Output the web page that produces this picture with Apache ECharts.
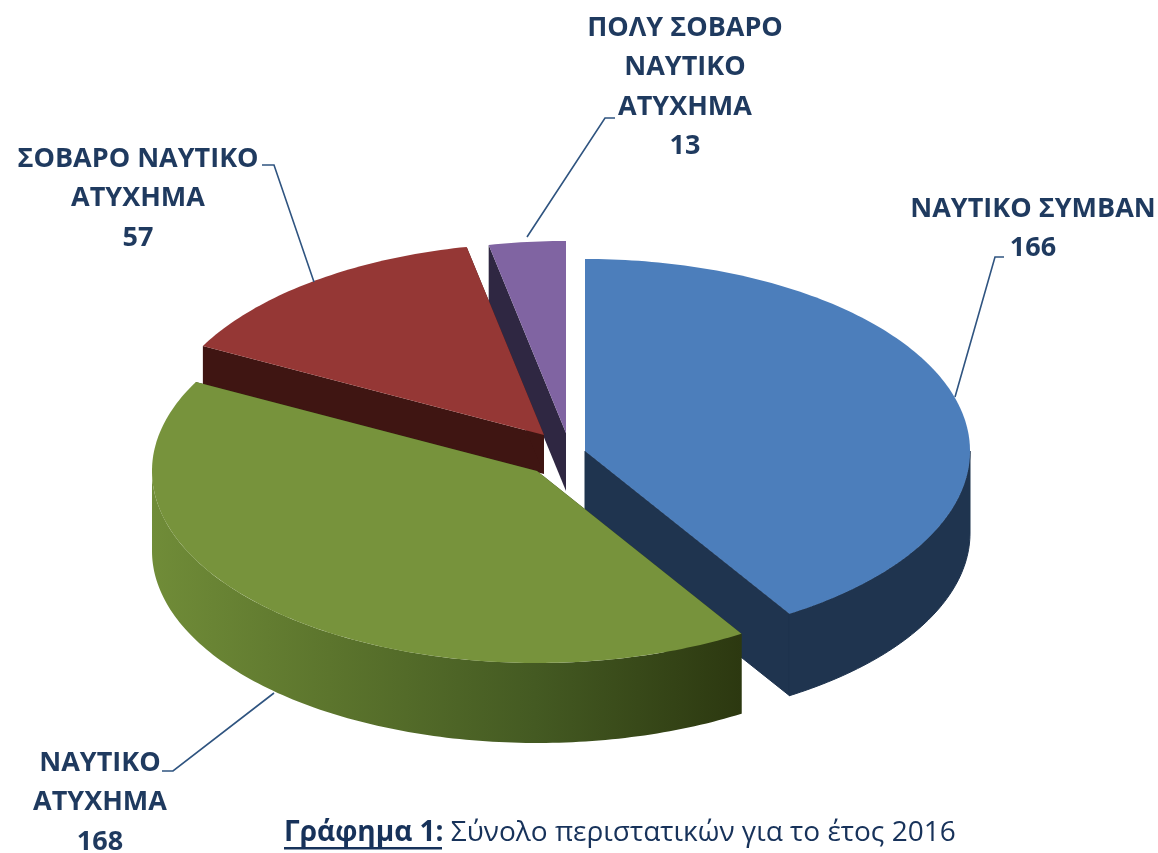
<!DOCTYPE html>
<html><head><meta charset="utf-8">
<style>html,body{margin:0;padding:0;background:#fff}#c{width:1158px;height:853px}</style>
<script src="https://cdn.jsdelivr.net/npm/echarts@6/dist/echarts.min.js"></script></head>
<body><div id="c"></div>
<script>
const categories = ['ΝΑΥΤΙΚΟ ΣΥΜΒΑΝ', 'ΝΑΥΤΙΚΟ\nΑΤΥΧΗΜΑ', 'ΣΟΒΑΡΟ ΝΑΥΤΙΚΟ\nΑΤΥΧΗΜΑ', 'ΠΟΛΥ ΣΟΒΑΡΟ\nΝΑΥΤΙΚΟ\nΑΤΥΧΗΜΑ'];
const sliceValues = [166, 168, 57, 13];
const titleBold = 'Γράφημα 1:';
const titleRest = 'Σύνολο περιστατικών για το έτος 2016';

const topColors = ['#4C7EBB', '#77933C', '#953735', '#8064A2'];
const wallColors = ['#1F344F',
  {type:'linear',x:0,y:0,x2:1,y2:0,colorStops:[{offset:0,color:'#708C38'},{offset:0.3,color:'#5C752D'},{offset:0.65,color:'#445A22'},{offset:1,color:'#2C3810'}]},
  '#3F1512', '#2F2742'];
const centers = [[585,451],[537,471],[544,435],[566,433]];
const depths = [82,80,39,58];
const paintRank = [2,3,1,0];
const RX = 385, RY = 192;
const labelFont = '"Open Sans","Noto Sans",sans-serif';
const labelColor = '#1F3A5F';
const labelAnchors = [[1033,209],[100,763],[138,159],[685,28]];
const leaders = [
  [[955,397],[995,257],[1004,257]],
  [[274,693],[173,771],[162,771]],
  [[314,282],[274,165],[262,165]],
  [[527,237],[605,118],[615,118]]
];
const total = sliceValues.reduce((a,b)=>a+b,0);

function renderSlice(params, api){
  const i = params.dataIndex;
  let before = 0;
  for(let k=0;k<i;k++) before += sliceValues[k];
  const a0 = before/total*Math.PI*2, a1 = (before+api.value(0))/total*Math.PI*2;
  const [cx,cy] = centers[i], d = depths[i];
  const pt = (a)=>[cx+RX*Math.sin(a), cy-RY*Math.cos(a)];
  const sweep = (s,e)=>{
    const out=[], n=Math.max(6,Math.ceil((e-s)/(Math.PI/180)));
    for(let k=0;k<=n;k++) out.push(pt(s+(e-s)*k/n));
    return out;
  };
  const arc = sweep(a0,a1);
  const down = (p)=>[p[0],p[1]+d];
  const z = paintRank[i]*10;
  const wall = wallColors[i];
  const solid = i===1 ? '#2C3810' : wall;
  const seam = i===0 ? wall : null;
  const first = arc[0], last = arc[arc.length-1], apex=[cx,cy];
  const children = [
    {type:'polygon',z2:z,shape:{points:[apex,first,down(first),down(apex)]},style:{fill:solid}},
    {type:'polygon',z2:z,shape:{points:[apex,last,down(last),down(apex)]},style:{fill:solid,stroke:seam,lineWidth:1}}
  ];
  const vs = Math.max(a0,Math.PI/2), ve = Math.min(a1,Math.PI*1.5);
  if(ve>vs){
    const w = sweep(vs,ve);
    children.push({type:'polygon',z2:z+1,shape:{points:w.concat(w.slice().reverse().map(down))},
      style:{fill:wall,stroke:seam,lineWidth:1}});
  }
  children.push({type:'polygon',z2:z+2,shape:{points:[apex].concat(arc)},style:{fill:topColors[i]}});
  return {type:'group',children};
}

const graphics = [];
categories.forEach((c,i)=>{
  const lines = c.split('\n').concat([String(sliceValues[i])]);
  lines.forEach((t,k)=>graphics.push({type:'text',x:labelAnchors[i][0],y:labelAnchors[i][1]+k*39.5,z:10,
    style:{text:t,fill:labelColor,font:'bold 27px '+labelFont,textAlign:'center',textVerticalAlign:'middle'}}));
  graphics.push({type:'polyline',z:10,shape:{points:leaders[i]},style:{stroke:'#2F5480',lineWidth:1.6,fill:null}});
});
graphics.push({type:'rect',z:10,shape:{x:284,y:847,width:158,height:2.5},style:{fill:'#17325A'}});

const chart = echarts.init(document.getElementById('c'),null,{renderer:'canvas'});
chart.setOption({
  animation:false,
  backgroundColor:'#fff',
  title:{left:284,top:819,padding:0,
    text:'{b|'+titleBold+'} {r|'+titleRest+'}',
    textStyle:{fontSize:28,fontFamily:labelFont,color:'#17325A',rich:{
      b:{fontWeight:'bold',fontSize:28,fontFamily:labelFont,color:'#17325A'},
      r:{fontWeight:'normal',fontSize:28,fontFamily:labelFont,color:'#17325A'}}}},
  series:[{type:'custom',coordinateSystem:'none',renderItem:renderSlice,silent:true,
    data:sliceValues.map((v,i)=>({name:categories[i],value:[v]}))}],
  graphic:graphics
});
</script></body></html>
